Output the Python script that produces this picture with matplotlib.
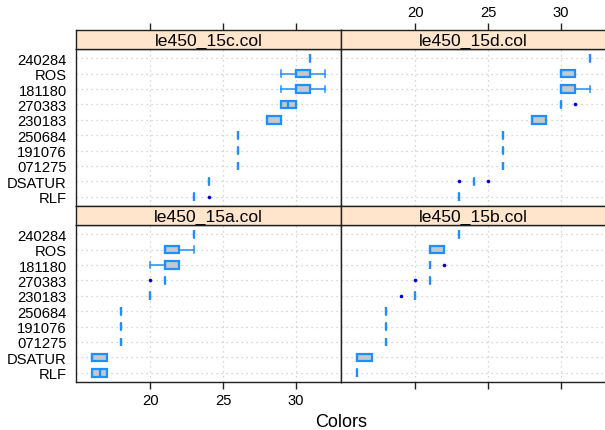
import matplotlib
matplotlib.use('Agg')
import matplotlib.pyplot as plt

plt.rcParams['font.family'] = ['Liberation Sans', 'DejaVu Sans']

# rows of each panel, bottom to top
categories = ["RLF", "DSATUR", "071275", "191076", "250684",
              "230183", "270383", "181180", "ROS", "240284"]

# per category: (whisker low, q1, median, q3, whisker high)
stats_15c = [(23, 23, 23, 23, 23), (24, 24, 24, 24, 24), (26, 26, 26, 26, 26),
             (26, 26, 26, 26, 26), (26, 26, 26, 26, 26), (28, 28, 28, 29, 29),
             (29, 29, 29.5, 30, 30), (29, 30, 30, 31, 32), (29, 30, 30, 31, 32),
             (31, 31, 31, 31, 31)]
fliers_15c = [[24], [], [], [], [], [], [], [], [], []]

stats_15d = [(23, 23, 23, 23, 23), (24, 24, 24, 24, 24), (26, 26, 26, 26, 26),
             (26, 26, 26, 26, 26), (26, 26, 26, 26, 26), (28, 28, 28, 29, 29),
             (30, 30, 30, 30, 30), (30, 30, 30, 31, 32), (30, 30, 30, 31, 31),
             (32, 32, 32, 32, 32)]
fliers_15d = [[], [23, 25], [], [], [], [], [31], [], [], []]

stats_15a = [(16, 16, 16.5, 17, 17), (16, 16, 16, 17, 17), (18, 18, 18, 18, 18),
             (18, 18, 18, 18, 18), (18, 18, 18, 18, 18), (20, 20, 20, 20, 20),
             (21, 21, 21, 21, 21), (20, 21, 21, 22, 22), (21, 21, 21, 22, 23),
             (23, 23, 23, 23, 23)]
fliers_15a = [[], [], [], [], [], [], [20], [], [], []]

stats_15b = [(16, 16, 16, 16, 16), (16, 16, 16, 17, 17), (18, 18, 18, 18, 18),
             (18, 18, 18, 18, 18), (18, 18, 18, 18, 18), (20, 20, 20, 20, 20),
             (21, 21, 21, 21, 21), (21, 21, 21, 21, 21), (21, 21, 21, 22, 22),
             (23, 23, 23, 23, 23)]
fliers_15b = [[], [], [], [], [], [19], [20], [22], [], []]

x_ticks = [20, 25, 30]

W, H = 605, 431
BLUE = '#1E8FFF'
STRIP = '#FFE5CC'
BORDER = '#222222'

fig = plt.figure(figsize=(W / 100, H / 100), dpi=100)


def add_px_axes(x0, y0, x1, y1):
    # pixel box (top-left origin) -> figure axes
    return fig.add_axes([x0 / W, 1 - y1 / H, (x1 - x0) / W, (y1 - y0) / H])


# (title, stats, fliers, column, row)
panels = [
    ("le450_15c.col", stats_15c, fliers_15c, 0, 0),
    ("le450_15d.col", stats_15d, fliers_15d, 1, 0),
    ("le450_15a.col", stats_15a, fliers_15a, 0, 1),
    ("le450_15b.col", stats_15b, fliers_15b, 1, 1),
]
col_x = [(76, 341), (341, 606)]
row_y = [(31, 50, 207), (207, 226, 383)]
xlim = (14.88, 33.12)

for title, stats, fliers, col, row in panels:
    x0, x1 = col_x[col]
    s_top, s_bot, p_bot = row_y[row]

    ax = add_px_axes(x0, s_bot, x1, p_bot)
    bstats = [dict(whislo=s[0], q1=s[1], med=s[2], q3=s[3], whishi=s[4], fliers=f)
              for s, f in zip(stats, fliers)]
    ax.bxp(bstats, positions=range(1, len(categories) + 1), orientation='horizontal',
           widths=0.5, capwidths=0.45, patch_artist=True,
           boxprops=dict(facecolor='#C3C9CC', edgecolor=BLUE, linewidth=1.6),
           whiskerprops=dict(color=BLUE, linewidth=1.1),
           capprops=dict(color=BLUE, linewidth=1.1),
           medianprops=dict(color=BLUE, linewidth=1.6),
           flierprops=dict(marker='o', markersize=2.6, markerfacecolor='#0000DD',
                           markeredgecolor='none'))
    ax.set_xlim(*xlim)
    ax.set_ylim(0.4, len(categories) + 0.6)
    ax.set_xticks(x_ticks)
    ax.set_yticks(range(1, len(categories) + 1))
    ax.set_axisbelow(True)
    ax.grid(True, color='#C8C8C8', linestyle=(0, (1, 3)), linewidth=0.9)
    for sp in ax.spines.values():
        sp.set_color(BORDER)
        sp.set_linewidth(1.0)

    if col == 0:
        ax.set_yticklabels(categories, fontsize=10.6)
        ax.tick_params(axis='y', length=0, pad=6.5)
    else:
        ax.tick_params(axis='y', length=0, labelleft=False)

    if row == 1:
        ax.tick_params(axis='x', length=5, width=1.0, color=BORDER, pad=3,
                       labelsize=10.6, labelbottom=(col == 0))
    else:
        ax.tick_params(axis='x', length=0, labelbottom=False)

    # strip with the panel name; top row carries the top axis ticks
    sx = add_px_axes(x0, s_top, x1, s_bot)
    sx.set_facecolor(STRIP)
    sx.set_xlim(*xlim)
    sx.set_yticks([])
    sx.set_xticks(x_ticks)
    if row == 0:
        sx.tick_params(axis='x', bottom=False, labelbottom=False, top=True,
                       labeltop=(col == 1), length=5, width=1.0, color=BORDER,
                       pad=3, labelsize=10.6)
    else:
        sx.tick_params(axis='x', bottom=False, labelbottom=False, length=0)
    for sp in sx.spines.values():
        sp.set_color(BORDER)
        sp.set_linewidth(1.0)
    sx.text(0.5, 0.24, title, transform=sx.transAxes, ha='center', va='baseline',
            fontsize=12.6)

fig.text(341 / W, 1 - 423 / H, "Colors", ha='center', va='center', fontsize=13)

fig.savefig('out.png', dpi=100)
